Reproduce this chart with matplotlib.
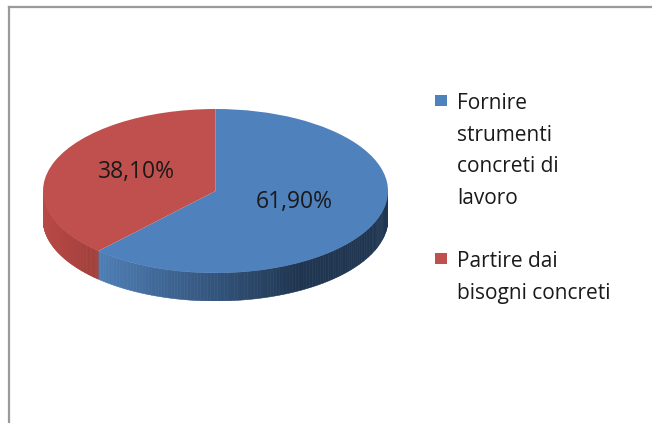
import matplotlib
matplotlib.use("Agg")
import matplotlib.pyplot as plt
import numpy as np
from matplotlib.collections import PolyCollection
from matplotlib.colors import to_rgb
from matplotlib.lines import Line2D
from matplotlib.patches import Rectangle

# dati
labels = ["Fornire\nstrumenti\nconcreti di\nlavoro", "Partire dai\nbisogni concreti"]
values = [61.9, 38.1]
colors = ["#4F81BD", "#C0504D"]
side_light = ["#4E7EB6", "#B94A46"]
side_dark = ["#1F3550", "#A03D39"]

W, H = 652, 423
fig = plt.figure(figsize=(W / 100, H / 100), dpi=100)
fig.patch.set_facecolor("white")

# bordo grigio (sinistra e alto)
fig.add_artist(Line2D([8.5 / W, 8.5 / W], [0, 1 - 7 / H], color="#9a9a9a", lw=1.6))
fig.add_artist(Line2D([8.5 / W, 1], [1 - 7 / H, 1 - 7 / H], color="#9a9a9a", lw=1.6))

# geometria della torta (pixel)
cx, cy, a, b, thick = 215.5, 191, 172.5, 82, 28
t = thick / b
left = (cx - a) / W
bottom = 1 - (cy + b + thick) / H
ax = fig.add_axes([left, bottom, 2 * a / W, (2 * b + thick) / H])

wedges, texts, autotexts = ax.pie(
    values,
    colors=colors,
    startangle=90,
    counterclock=False,
    autopct=lambda p: f"{p:.2f}%".replace(".", ","),
    pctdistance=0.49,
    wedgeprops=dict(linewidth=0),
    textprops=dict(fontsize=16.5, color="#1a1a1a", family=["Open Sans", "DejaVu Sans"]),
)
for w in wedges:
    w.set_zorder(3)
for txt in autotexts:
    x, y = txt.get_position()
    txt.set_position((x, y + 0.05))
    txt.set_zorder(4)

# bordo laterale 3D (solo la metà frontale)
start = 90.0
polys, fcols = [], []
for v, cl, cd in zip(values, side_light, side_dark):
    end = start - 360 * v / 100
    lo, hi = end, start
    for wlo, whi in [(-180, 0), (-540, -360)]:
        s, e = max(lo, wlo), min(hi, whi)
        if e <= s:
            continue
        th = np.radians(np.linspace(s, e, 120))
        xs = np.cos(th)
        xmin, xmax = xs.min(), xs.max()
        for i in range(len(th) - 1):
            x0, x1 = xs[i], xs[i + 1]
            y0, y1 = np.sin(th[i]), np.sin(th[i + 1])
            polys.append([(x0, y0), (x1, y1), (x1, y1 - t), (x0, y0 - t)])
            xm = 0.5 * (x0 + x1)
            f = np.clip((xm - xmin) / max(min(xmax, 0.5) - xmin, 1e-6), 0, 1)
            c = (1 - f) * np.array(to_rgb(cl)) + f * np.array(to_rgb(cd))
            fcols.append(c)
    start = end

side = PolyCollection(polys, facecolors=fcols, edgecolors=fcols, linewidths=0.4, zorder=1)
ax.add_collection(side)

ax.set_aspect("auto")
ax.set_xlim(-1, 1)
ax.set_ylim(-1 - t, 1)
ax.axis("off")

# legenda
sq_y = [101, 258]
txt_y = [93, 251]
for lab, col, sy, ty in zip(labels, colors, sq_y, txt_y):
    fig.add_artist(Rectangle((435 / W, 1 - (sy + 5.5) / H), 12 / W, 11 / H,
                             transform=fig.transFigure, facecolor=col, edgecolor="none"))
    fig.text(457 / W, 1 - ty / H, lab, fontsize=15, va="top", ha="left",
             linespacing=1.66, color="#1a1a1a", family=["Open Sans", "DejaVu Sans"])

fig.savefig("out.png", dpi=100)
